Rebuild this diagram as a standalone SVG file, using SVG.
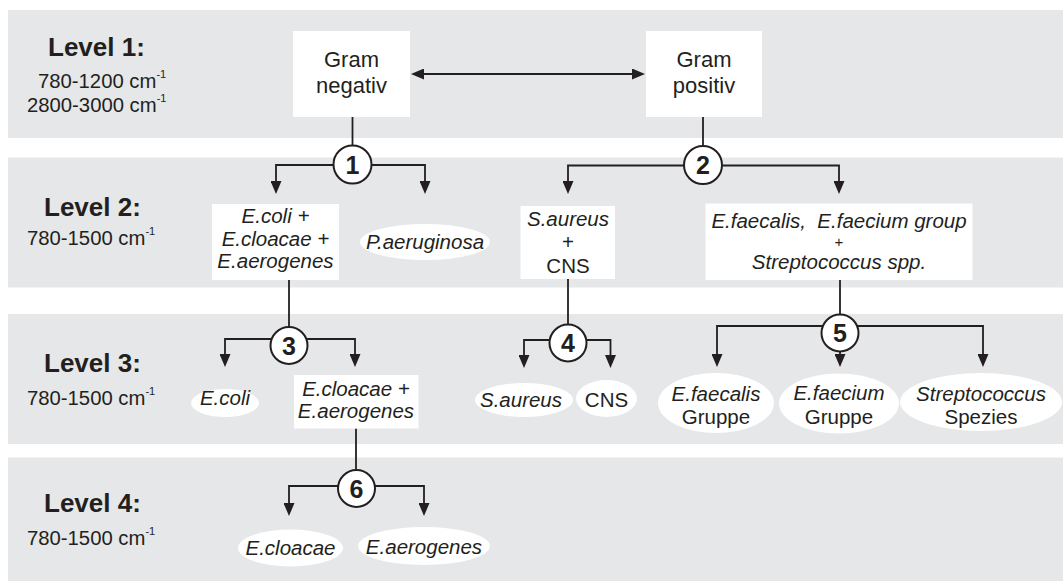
<svg xmlns="http://www.w3.org/2000/svg" width="1063" height="581" viewBox="0 0 1063 581">
  <defs>
    <style>
      .band { fill: #e6e7e8; }
      .box { fill: #ffffff; }
      .t { font-family: "Liberation Sans", Arial, sans-serif; fill: #231f20; font-size: 20.5px; text-anchor: middle; }
      .it { font-style: italic; }
      .gram { font-size: 22px; }
      .plus { font-size: 15px; }
      .lvl { font-family: "Liberation Sans", Arial, sans-serif; fill: #231f20; font-size: 26px; font-weight: bold; }
      .rng { font-family: "Liberation Sans", Arial, sans-serif; fill: #231f20; font-size: 20.3px; }
      .sup { font-size: 11px; }
      .conn { fill: none; stroke: #231f20; stroke-width: 1.8; }
      .step { fill: #ffffff; stroke: #231f20; stroke-width: 2; }
      .num { font-family: "Liberation Sans", Arial, sans-serif; fill: #231f20; font-size: 25px; font-weight: bold; text-anchor: middle; }
    </style>
    <marker id="head" markerUnits="userSpaceOnUse" markerWidth="13" markerHeight="11" refX="7" refY="5.5" orient="auto-start-reverse">
      <path d="M0,0 L13,5.5 L0,11 z" fill="#231f20"/>
    </marker>
  </defs>

  <!-- level bands -->
  <g id="bands">
    <rect class="band" x="8" y="10" width="1055" height="128"/>
    <rect class="band" x="8" y="157.5" width="1055" height="130"/>
    <rect class="band" x="8" y="314" width="1055" height="130"/>
    <rect class="band" x="8" y="457.5" width="1055" height="123.5"/>
  </g>

  <!-- level labels -->
  <g id="level1">
    <text class="lvl" x="48" y="56">Level 1:</text>
    <text class="rng" x="38" y="88">780-1200 cm<tspan class="sup" dy="-10">-1</tspan></text>
    <text class="rng" x="27" y="112">2800-3000 cm<tspan class="sup" dy="-10">-1</tspan></text>
  </g>
  <g id="level2">
    <text class="lvl" x="44" y="216">Level 2:</text>
    <text class="rng" x="27" y="245">780-1500 cm<tspan class="sup" dy="-10">-1</tspan></text>
  </g>
  <g id="level3">
    <text class="lvl" x="44" y="372">Level 3:</text>
    <text class="rng" x="27" y="405">780-1500 cm<tspan class="sup" dy="-10">-1</tspan></text>
  </g>
  <g id="level4">
    <text class="lvl" x="44" y="512">Level 4:</text>
    <text class="rng" x="27" y="545">780-1500 cm<tspan class="sup" dy="-10">-1</tspan></text>
  </g>

  <!-- connectors -->
  <g id="connectors">
    <path class="conn" d="M417,74 H639" marker-start="url(#head)" marker-end="url(#head)"/>
    <!-- step 1 -->
    <path class="conn" d="M352.5,117 V145"/>
    <path class="conn" d="M333,165 H276 V188" marker-end="url(#head)"/>
    <path class="conn" d="M372,165 H425 V188" marker-end="url(#head)"/>
    <!-- step 2 -->
    <path class="conn" d="M703,117 V146"/>
    <path class="conn" d="M684,165.5 H568 V188" marker-end="url(#head)"/>
    <path class="conn" d="M722,165.5 H839 V188" marker-end="url(#head)"/>
    <!-- step 3 -->
    <path class="conn" d="M289,280 V327"/>
    <path class="conn" d="M271.7,339 H225 V361" marker-end="url(#head)"/>
    <path class="conn" d="M306.3,339 H355 V361" marker-end="url(#head)"/>
    <!-- step 4 -->
    <path class="conn" d="M568,279 V324.5"/>
    <path class="conn" d="M549.7,340 H524 V362" marker-end="url(#head)"/>
    <path class="conn" d="M586.3,340 H610.5 V362" marker-end="url(#head)"/>
    <!-- step 5 -->
    <path class="conn" d="M840,280 V314.5"/>
    <path class="conn" d="M822.9,326 H717 V361" marker-end="url(#head)"/>
    <path class="conn" d="M857.1,326 H983 V361" marker-end="url(#head)"/>
    <path class="conn" d="M840,351.5 V361" marker-end="url(#head)"/>
    <!-- step 6 -->
    <path class="conn" d="M356,428.5 V470"/>
    <path class="conn" d="M338,486 H289 V510" marker-end="url(#head)"/>
    <path class="conn" d="M374.5,486 H424 V510" marker-end="url(#head)"/>
  </g>

  <!-- decision steps -->
  <g id="step1"><circle class="step" cx="352.5" cy="164.5" r="19"/><text class="num" x="352.5" y="173.5">1</text></g>
  <g id="step2"><circle class="step" cx="703" cy="165" r="19"/><text class="num" x="703" y="174">2</text></g>
  <g id="step3"><circle class="step" cx="289" cy="345.5" r="18.5"/><text class="num" x="289" y="354.5">3</text></g>
  <g id="step4"><circle class="step" cx="568" cy="343" r="18.5"/><text class="num" x="568" y="352">4</text></g>
  <g id="step5"><circle class="step" cx="840" cy="333" r="18.5"/><text class="num" x="840" y="342">5</text></g>
  <g id="step6"><circle class="step" cx="356.5" cy="488.5" r="18.5"/><text class="num" x="356.5" y="497.5">6</text></g>

  <!-- level 1 nodes -->
  <g id="gram-negativ">
    <rect class="box" x="293" y="31" width="117" height="86"/>
    <text class="t gram" x="351.5" y="67">Gram</text>
    <text class="t gram" x="351.5" y="93">negativ</text>
  </g>
  <g id="gram-positiv">
    <rect class="box" x="646" y="31" width="116" height="86"/>
    <text class="t gram" x="704" y="67">Gram</text>
    <text class="t gram" x="704" y="93">positiv</text>
  </g>

  <!-- level 2 nodes -->
  <g id="enterobacteria">
    <rect class="box" x="212" y="204" width="127" height="76"/>
    <text class="t it" x="275.5" y="223">E.coli +</text>
    <text class="t it" x="275.5" y="246">E.cloacae +</text>
    <text class="t it" x="275.5" y="268">E.aerogenes</text>
  </g>
  <g id="p-aeruginosa">
    <ellipse class="box" cx="425" cy="242" rx="65" ry="18"/>
    <text class="t it" x="425" y="248.5">P.aeruginosa</text>
  </g>
  <g id="staphylococci">
    <rect class="box" x="520.5" y="206" width="94.5" height="73"/>
    <text class="t it" x="568" y="225.5">S.aureus</text>
    <text class="t" x="568" y="249">+</text>
    <text class="t" x="568" y="272.5">CNS</text>
  </g>
  <g id="enterococci-streptococci">
    <rect class="box" x="705.5" y="203.5" width="267" height="76.5"/>
    <text class="t it" x="839" y="227.5" xml:space="preserve">E.faecalis,  E.faecium group</text>
    <text class="t plus" x="839" y="247">+</text>
    <text class="t it" x="839" y="269">Streptococcus spp.</text>
  </g>

  <!-- level 3 nodes -->
  <g id="e-coli">
    <ellipse class="box" cx="225" cy="403" rx="34" ry="14"/>
    <text class="t it" x="225" y="405">E.coli</text>
  </g>
  <g id="cloacae-aerogenes">
    <rect class="box" x="294" y="375" width="124.5" height="53.5"/>
    <text class="t it" x="356" y="395.5">E.cloacae +</text>
    <text class="t it" x="356" y="418">E.aerogenes</text>
  </g>
  <g id="s-aureus">
    <ellipse class="box" cx="524" cy="400" rx="49" ry="17"/>
    <text class="t it" x="521" y="406.5">S.aureus</text>
  </g>
  <g id="cns">
    <ellipse class="box" cx="606.5" cy="398.5" rx="30.5" ry="18.5"/>
    <text class="t" x="606.5" y="406.5">CNS</text>
  </g>
  <g id="e-faecalis">
    <ellipse class="box" cx="716" cy="403" rx="58" ry="30"/>
    <text class="t it" x="716" y="401">E.faecalis</text>
    <text class="t" x="716" y="424">Gruppe</text>
  </g>
  <g id="e-faecium">
    <ellipse class="box" cx="839" cy="403.5" rx="60" ry="30"/>
    <text class="t it" x="839" y="399.5">E.faecium</text>
    <text class="t" x="839" y="424">Gruppe</text>
  </g>
  <g id="streptococcus">
    <ellipse class="box" cx="981" cy="402" rx="81" ry="29"/>
    <text class="t it" x="981" y="400.5">Streptococcus</text>
    <text class="t" x="981" y="424">Spezies</text>
  </g>

  <!-- level 4 nodes -->
  <g id="e-cloacae">
    <ellipse class="box" cx="290.5" cy="548" rx="52.5" ry="18.5"/>
    <text class="t it" x="290.5" y="555">E.cloacae</text>
  </g>
  <g id="e-aerogenes">
    <ellipse class="box" cx="424" cy="546" rx="66" ry="19"/>
    <text class="t it" x="424" y="553.5">E.aerogenes</text>
  </g>
</svg>
